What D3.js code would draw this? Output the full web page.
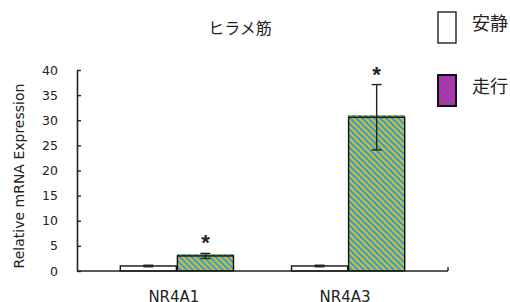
<!DOCTYPE html>
<html>
<head>
<meta charset="utf-8">
<script src="https://cdn.jsdelivr.net/npm/d3@7"></script>
<style>
  body { margin: 0; background: #fff; }
  svg { display: block; }
  text { fill: #222; }
</style>
</head>
<body>
<div id="chart"></div>
<script>
// data
var categories = ["NR4A1", "NR4A3"];
var groups = ["安静", "走行"];
var restValues = [1.0, 1.0];
var restErr = [0.15, 0.15];
var runValues = [3.0, 30.6];
var runErr = [0.5, 6.5];
var significant = [true, true];
var yTicks = [0, 5, 10, 15, 20, 25, 30, 35, 40];
var title = "ヒラメ筋";
var yTitle = "Relative mRNA Expression";

var W = 510, H = 302;
// plot box (window.top is read-only, so no bare "top")
var plotL = 77, plotR = 448, plotT = 70, plotB = 271;
var latin = "'DejaVu Sans', Verdana, sans-serif";
var cjk = "'Noto Sans CJK JP', sans-serif";

var svg = d3.select("#chart").append("svg")
    .attr("width", W)
    .attr("height", H);

var defs = svg.append("defs");

// pixel staircase stripes (\ direction) so they stay crisp like excel's
function stripes(id, c1, c2, n) {
    var p = defs.append("pattern")
        .attr("id", id)
        .attr("patternUnits", "userSpaceOnUse")
        .attr("width", n)
        .attr("height", n);
    p.append("rect").attr("width", n).attr("height", n).attr("fill", c1);
    for (var r = 0; r < n; r++) {
        for (var k = 0; k < n / 2; k++) {
            p.append("rect")
                .attr("x", (r + k) % n).attr("y", r)
                .attr("width", 1).attr("height", 1)
                .attr("fill", c2)
                .attr("shape-rendering", "crispEdges");
        }
    }
}
stripes("runFill", "#c9bf2a", "#3d9fd9", 6);
stripes("legendFill", "#d1238a", "#7750c8", 6);

var x0 = d3.scaleBand()
    .domain(categories)
    .range([plotL, plotR])
    .paddingInner(0.333)
    .paddingOuter(0.25);

var x1 = d3.scaleBand()
    .domain(groups)
    .range([0, x0.bandwidth()]);

var y = d3.scaleLinear()
    .domain([0, 40])
    .range([plotB, plotT]);

// title
svg.append("text")
    .attr("x", 240)
    .attr("y", 34)
    .attr("text-anchor", "middle")
    .style("font-family", cjk)
    .style("font-size", "16px")
    .text(title);

// y axis
var yAxis = d3.axisLeft(y)
    .tickValues(yTicks)
    .tickSizeInner(-4)
    .tickSizeOuter(0)
    .tickPadding(19);

var gy = svg.append("g")
    .attr("transform", "translate(" + plotL + ",0)")
    .call(yAxis);
gy.select(".domain").attr("stroke", "#222").attr("stroke-width", 1.6);
gy.selectAll(".tick line").attr("stroke", "#222").attr("stroke-width", 1.4);
gy.selectAll(".tick text")
    .style("font-family", latin)
    .style("font-size", "12.5px")
    .attr("fill", "#222");

svg.append("text")
    .attr("transform", "translate(24," + 176 + ") rotate(-90)")
    .attr("text-anchor", "middle")
    .style("font-family", latin)
    .style("font-size", "14px")
    .text(yTitle);

var rows = categories.map(function (c, i) {
    return [
        { cat: c, group: groups[0], v: restValues[i], e: restErr[i], sig: false },
        { cat: c, group: groups[1], v: runValues[i], e: runErr[i], sig: significant[i] }
    ];
});

var cat = svg.selectAll(".cat")
    .data(rows)
    .enter().append("g")
    .attr("class", "cat")
    .attr("transform", function (d) { return "translate(" + x0(d[0].cat) + ",0)"; });

var bar = cat.selectAll(".bar")
    .data(function (d) { return d; })
    .enter().append("g")
    .attr("class", "bar");

// excel draws the pattern a little above the outline
bar.filter(function (d) { return d.group === groups[1]; })
    .append("rect")
    .attr("x", function (d) { return Math.round(x0(d.cat) + x1(d.group)) - x0(d.cat); })
    .attr("y", function (d) { return Math.round(y(d.v)) - 2; })
    .attr("width", Math.round(x1.bandwidth()))
    .attr("height", function (d) { return plotB - Math.round(y(d.v)) + 2; })
    .attr("fill", "url(#runFill)");

bar.append("rect")
    .attr("x", function (d) { return x1(d.group) + 0.5; })
    .attr("y", function (d) { return y(d.v); })
    .attr("width", x1.bandwidth() - 1)
    .attr("height", function (d) { return plotB - y(d.v); })
    .attr("fill", function (d) { return d.group === groups[0] ? "#fff" : "none"; })
    .attr("stroke", "#111")
    .attr("stroke-width", 1.4);

// error bars
var capW = 5;
bar.append("line")
    .attr("x1", function (d) { return x1(d.group) + x1.bandwidth() / 2; })
    .attr("x2", function (d) { return x1(d.group) + x1.bandwidth() / 2; })
    .attr("y1", function (d) { return y(d.v - d.e); })
    .attr("y2", function (d) { return y(d.v + d.e); })
    .attr("stroke", "#222")
    .attr("stroke-width", 1.4);
[-1, 1].forEach(function (s) {
    bar.append("line")
        .attr("x1", function (d) { return x1(d.group) + x1.bandwidth() / 2 - capW; })
        .attr("x2", function (d) { return x1(d.group) + x1.bandwidth() / 2 + capW; })
        .attr("y1", function (d) { return y(d.v + s * d.e); })
        .attr("y2", function (d) { return y(d.v + s * d.e); })
        .attr("stroke", "#222")
        .attr("stroke-width", 1.4);
});

bar.filter(function (d) { return d.sig; })
    .append("text")
    .attr("x", function (d) { return x1(d.group) + x1.bandwidth() / 2; })
    .attr("y", function (d) { return y(d.v + d.e) - 3; })
    .attr("text-anchor", "middle")
    .style("font-family", "'Liberation Sans', Arial, sans-serif")
    .style("font-size", "22px")
    .style("font-weight", "bold")
    .text("*");

// x axis: plain line with a small tick at the right end
var xAxis = d3.axisBottom(x0).tickSize(0).tickPadding(0);
var gx = svg.append("g")
    .attr("transform", "translate(0," + plotB + ")")
    .call(xAxis);
gx.select(".domain").remove();
gx.append("line")
    .attr("x1", plotL).attr("x2", plotR)
    .attr("stroke", "#222").attr("stroke-width", 1.6);
gx.append("line")
    .attr("x1", plotR).attr("x2", plotR)
    .attr("y1", 0).attr("y2", -4)
    .attr("stroke", "#222").attr("stroke-width", 1.4);
gx.selectAll(".tick")
    .attr("transform", function (d) { return "translate(" + (x0(d) + x0.bandwidth() / 2 - 3) + ",0)"; });
// labels sit low and are clipped by the bottom edge, as in the reference
gx.selectAll(".tick text")
    .attr("y", 31)
    .attr("dy", null)
    .style("font-family", latin)
    .style("font-size", "15px")
    .attr("fill", "#222");

// legend
var legend = svg.selectAll(".legend")
    .data(groups)
    .enter().append("g")
    .attr("class", "legend")
    .attr("transform", function (d, i) { return "translate(438," + (12 + i * 63) + ")"; });

legend.append("rect")
    .attr("width", 18)
    .attr("height", 31)
    .attr("fill", function (d, i) { return i === 0 ? "#fff" : "url(#legendFill)"; })
    .attr("stroke", "#111")
    .attr("stroke-width", function (d, i) { return i === 0 ? 1.3 : 2; });

legend.append("text")
    .attr("x", 34)
    .attr("y", 12)
    .attr("dy", "0.35em")
    .style("font-family", cjk)
    .style("font-size", "18px")
    .text(function (d) { return d; });
</script>
</body>
</html>
